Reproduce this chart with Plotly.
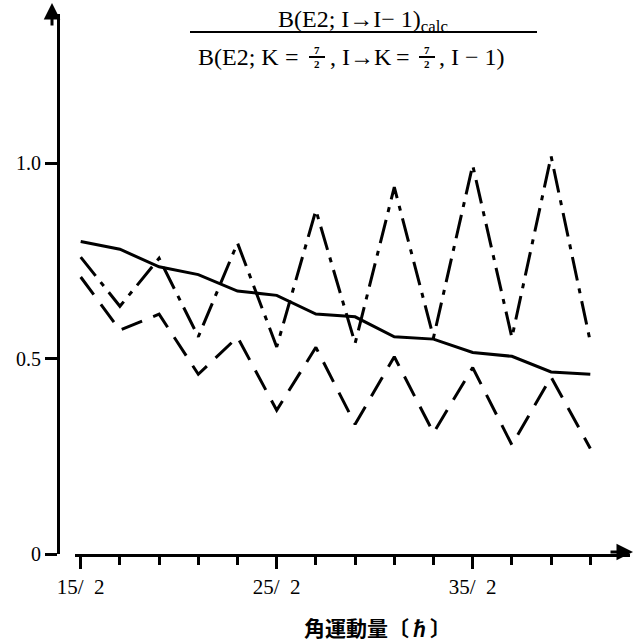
import plotly.graph_objects as go

# ---- data ----
spins = [7.5, 8.5, 9.5, 10.5, 11.5, 12.5, 13.5, 14.5, 15.5, 16.5, 17.5, 18.5, 19.5, 20.5]
ratio_solid = [0.80, 0.78, 0.735, 0.715, 0.673, 0.662, 0.614, 0.607, 0.556, 0.55, 0.516, 0.506, 0.466, 0.46]
ratio_dashdot = [0.76, 0.634, 0.757, 0.556, 0.796, 0.53, 0.88, 0.539, 0.939, 0.554, 0.995, 0.554, 1.018, 0.543]
ratio_dashed = [0.709, 0.573, 0.614, 0.46, 0.555, 0.368, 0.529, 0.332, 0.505, 0.31, 0.477, 0.279, 0.453, 0.27]
x_tick_vals = [7.5, 12.5, 17.5]
x_tick_text = ["15/\u20022", "25/\u20022", "35/\u20022"]
y_tick_vals = [0, 0.5, 1.0]
y_tick_text = ["0", "0.5", "1.0"]
x_title = "<b>角運動量〔ℏ〕</b>"

W, H = 637, 644
ML, MR, MT, MB = 58, 7, 14, 90
PW = W - ML - MR
PH = H - MT - MB
SERIF = "Liberation Serif"


def px(x):
    return (x - ML) / PW


def py(y):
    return (H - MB - y) / PH


fig = go.Figure()
fig.add_trace(go.Scatter(x=spins, y=ratio_solid, mode="lines",
                         line=dict(color="black", width=3), showlegend=False))
fig.add_trace(go.Scatter(x=spins, y=ratio_dashdot, mode="lines",
                         line=dict(color="black", width=3, dash="24px,8px,5px,8px"),
                         showlegend=False))
fig.add_trace(go.Scatter(x=spins, y=ratio_dashed, mode="lines",
                         line=dict(color="black", width=3, dash="22px,12px"),
                         showlegend=False))

annotations = []
shapes = []

# axis arrows
annotations.append(dict(xref="paper", yref="paper", x=px(52), y=py(3), ax=0, ay=24,
                        text="", showarrow=True, arrowhead=2, arrowsize=1.1,
                        arrowwidth=3, arrowcolor="black"))
annotations.append(dict(xref="paper", yref="paper", x=px(633), y=py(552), ax=-24, ay=0,
                        text="", showarrow=True, arrowhead=2, arrowsize=1.1,
                        arrowwidth=3, arrowcolor="black"))

# x-axis title
annotations.append(dict(xref="paper", yref="paper", x=px(377), y=py(627),
                        xanchor="center", yanchor="middle", showarrow=False,
                        text=x_title,
                        font=dict(family="Noto Sans CJK JP", size=21, color="black")))

# ratio formula (numerator / denominator)
annotations.append(dict(xref="paper", yref="paper", x=px(363), y=py(21),
                        xanchor="center", yanchor="middle", showarrow=False,
                        text="B(E2; I→I− 1)<sub>calc</sub>",
                        font=dict(family=SERIF, size=24, color="black")))
shapes.append(dict(type="line", xref="paper", yref="paper",
                   x0=px(190), x1=px(537), y0=py(32), y1=py(32),
                   line=dict(color="black", width=2)))

den_y = 57


def text_piece(x, s, anchor):
    annotations.append(dict(xref="paper", yref="paper", x=px(x), y=py(den_y),
                            xanchor=anchor, yanchor="middle", showarrow=False,
                            text=s, font=dict(family=SERIF, size=24, color="black")))


def small_frac(xc, num, den):
    annotations.append(dict(xref="paper", yref="paper", x=px(xc), y=py(den_y),
                            xanchor="center", yanchor="middle", showarrow=False,
                            text="<b>%s</b><br><b>%s</b>" % (num, den),
                            font=dict(family=SERIF, size=11, color="black")))
    shapes.append(dict(type="line", xref="paper", yref="paper",
                       x0=px(xc - 8), x1=px(xc + 8), y0=py(den_y), y1=py(den_y),
                       line=dict(color="black", width=2)))


text_piece(281, "B(E2; K", "right")
text_piece(292, "=", "center")
small_frac(317, "7", "2")
text_piece(328, ", I→K", "left")
text_piece(403, "=", "center")
small_frac(427, "7", "2")
text_piece(437, ", I − 1)", "left")

fig.update_layout(
    width=W, height=H,
    margin=dict(l=ML, r=MR, t=MT, b=MB, pad=0),
    paper_bgcolor="white", plot_bgcolor="white",
    annotations=annotations, shapes=shapes,
    xaxis=dict(domain=[17 / PW, 1], range=[7.3546, 21.5128],
               showline=True, linewidth=3, linecolor="black",
               showgrid=False, zeroline=False,
               tickmode="array", tickvals=x_tick_vals, ticktext=x_tick_text,
               ticks="outside", ticklen=12, tickwidth=3, tickcolor="black",
               tickfont=dict(family=SERIF, size=21, color="black"),
               minor=dict(tickmode="array", tickvals=spins, ticks="outside",
                          ticklen=8, tickwidth=3, tickcolor="black", showgrid=False)),
    yaxis=dict(anchor="free", position=0, range=[0, PH / 390.7],
               showline=True, linewidth=3, linecolor="black",
               showgrid=False, zeroline=False,
               tickmode="array", tickvals=y_tick_vals, ticktext=y_tick_text,
               ticks="outside", ticklen=12, tickwidth=3, tickcolor="black",
               tickfont=dict(family=SERIF, size=20, color="black")),
)

fig.write_html("out.html")
